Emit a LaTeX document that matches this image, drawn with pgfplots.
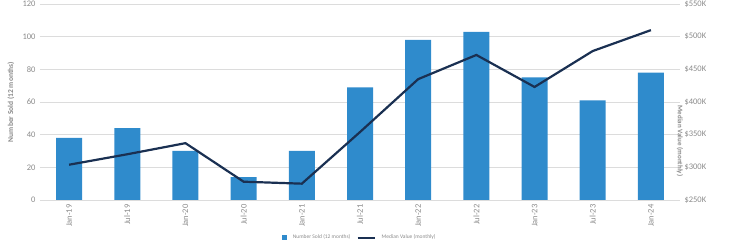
\documentclass[border=0pt]{standalone}
\usepackage{pgfplots}
\pgfplotsset{compat=1.18}
\usepackage{fontspec}
\setmainfont{Carlito}
\definecolor{barblue}{HTML}{2F8BCC}
\definecolor{navy}{HTML}{1A3052}
\definecolor{txtgray}{HTML}{8A8A8A}
\definecolor{gridgray}{HTML}{DCDCDC}
\begin{document}
\begin{tikzpicture}
\useasboundingbox (0,0) rectangle (729pt,243pt);
\pgfplotsset{
  common/.style={
    at={(40pt,43pt)}, anchor=south west,
    scale only axis, width=640pt, height=196pt,
    xmin=-0.5, xmax=10.5,
    xtick={0,...,10},
    ticklabel style={font=\fontsize{8.5}{9}\selectfont, text=txtgray},
    /pgf/number format/assume math mode=true,
    tick style={draw=none},
  }
}
\begin{axis}[common,
  ymin=0, ymax=120, ytick={0,20,...,120},
  axis y line*=left, axis x line*=bottom,
  x axis line style={draw=gridgray},
  y axis line style={draw=none},
  ymajorgrids, grid style={draw=gridgray, line width=0.6pt},
  xticklabels={Jan-19,Jul-19,Jan-20,Jul-20,Jan-21,Jul-21,Jan-22,Jul-22,Jan-23,Jul-23,Jan-24},
  xticklabel style={rotate=90, anchor=east, xshift=-1pt},
  yticklabel style={xshift=-1pt},
  ylabel={\textbf{Number Sold (12 months)}},
  ylabel style={font=\fontsize{7.5}{8}\selectfont, text=txtgray, at={(-29pt,0.5)}, anchor=center},
]
\addplot[ybar, bar width=26pt, fill=barblue, draw=none] coordinates {
(0,38) (1,44) (2,30) (3,14) (4,30) (5,69) (6,98) (7,103) (8,75) (9,61) (10,78)};
\end{axis}
\begin{axis}[common,
  ymin=250, ymax=550, ytick={250,300,...,550},
  yticklabels={\$250K,\$300K,\$350K,\$400K,\$450K,\$500K,\$550K},
  axis y line*=right, axis x line=none,
  y axis line style={draw=none},
  yticklabel style={anchor=west, xshift=1pt},
  ylabel={\textbf{Median Value (monthly)}},
  ylabel style={font=\fontsize{7}{8}\selectfont, text=txtgray, rotate=180, at={(1.0,0.5)}, xshift=39pt, anchor=center},
  legend style={at={(0.5,0)}, yshift=-42.6pt, anchor=south, draw=none, fill=none, legend columns=2,
    font=\fontsize{5.5}{6}\selectfont, text=txtgray, column sep=4pt, inner sep=0pt,
    legend cell align=left},
]
\addlegendimage{legend image code/.code={\fill[barblue] (0pt,-1.5pt) rectangle (4pt,2.5pt);}}
\addlegendentry{Number Sold (12 months)}
\addplot[navy, line width=2.2pt, mark=none] coordinates {
(0,304) (1,320) (2,337) (3,278) (4,275) (5,354) (6,435) (7,472) (8,423) (9,478) (10,510)};
\addlegendentry{Median Value (monthly)}
\end{axis}
\end{tikzpicture}
\end{document}
